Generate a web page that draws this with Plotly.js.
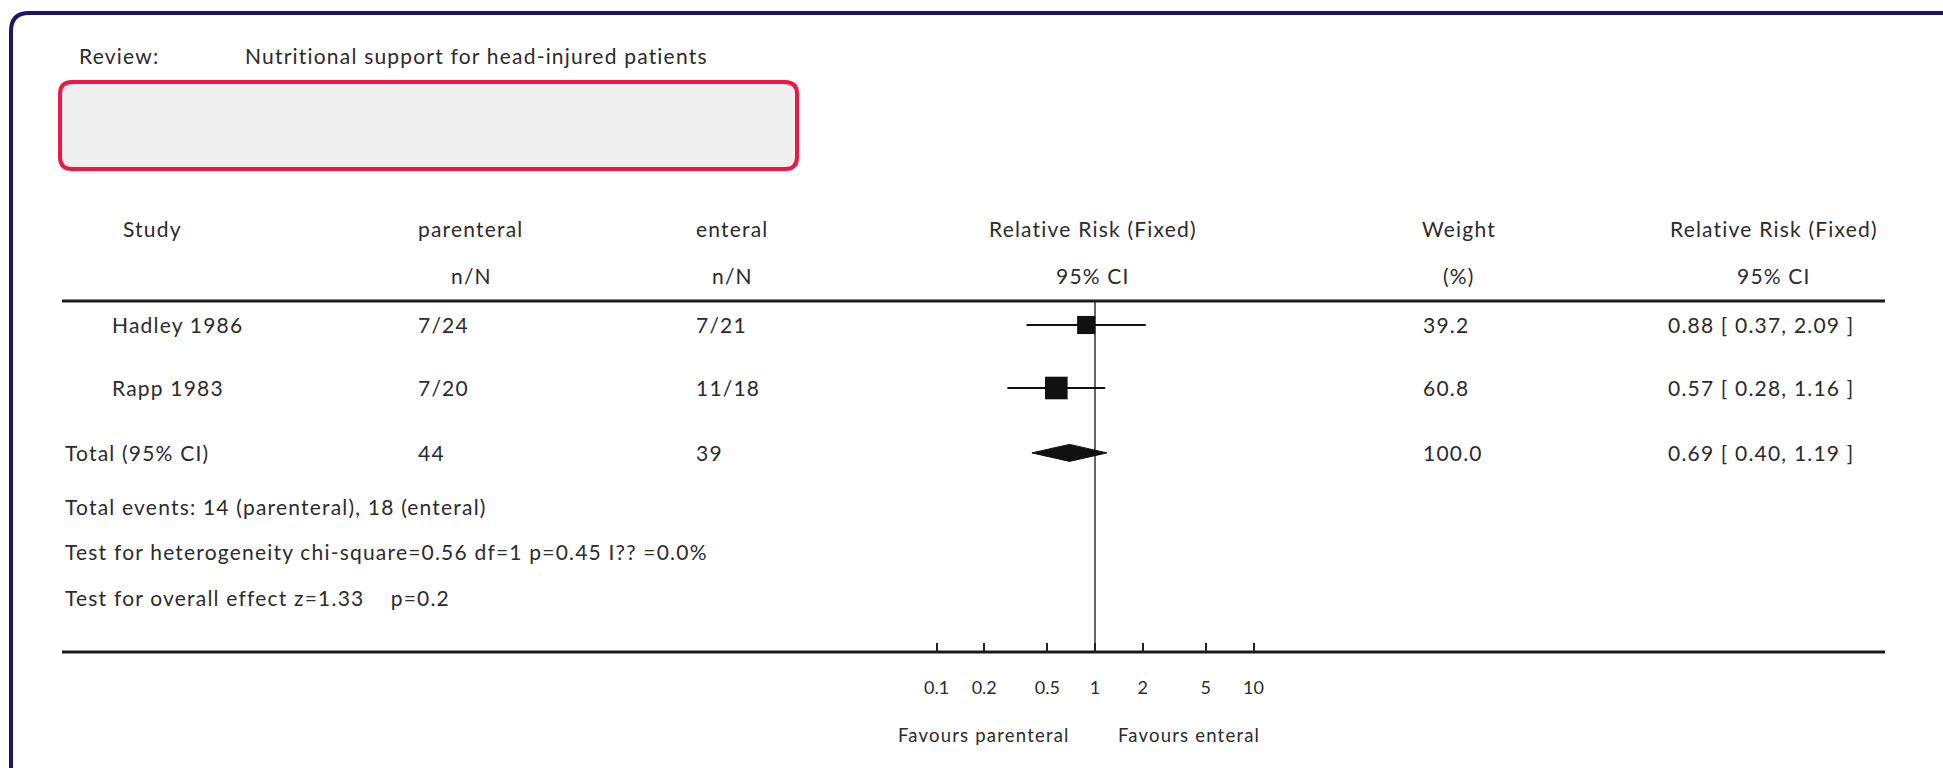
<!DOCTYPE html>
<html><head><meta charset="utf-8">
<script src="https://cdn.plot.ly/plotly-3.0.1.min.js"></script>
<style>
html,body{margin:0;padding:0;background:#fff;overflow:hidden}
#chart{width:1943px;height:768px}
text.annotation-text{letter-spacing:1.2px}
</style>
</head><body><div id="chart"></div>
<script>
// ---------- data ----------
const reviewLabel = "Review:";
const reviewTitle = "Nutritional support for head-injured patients";
const headerRow1 = ["Study", "parenteral", "enteral", "Relative Risk (Fixed)", "Weight", "Relative Risk (Fixed)"];
const headerRow2 = ["", "n/N", "n/N", "95% CI", "(%)", "95% CI"];
const studies = ["Hadley 1986", "Rapp 1983"];
const parenteralEvents = [7, 7];
const parenteralTotal = [24, 20];
const enteralEvents = [7, 11];
const enteralTotal = [21, 18];
const weights = [39.2, 60.8];
const rr = [0.88, 0.57];
const ciLow = [0.37, 0.28];
const ciHigh = [2.09, 1.16];
const totalLabel = "Total (95% CI)";
const totalParenteral = 44;
const totalEnteral = 39;
const totalWeight = 100.0;
const totalRR = 0.69;
const totalLow = 0.40;
const totalHigh = 1.19;
const footerLines = [
  "Total events: 14 (parenteral), 18 (enteral)",
  "Test for heterogeneity chi-square=0.56 df=1 p=0.45 I?? =0.0%",
  "Test for overall effect z=1.33\u00A0\u00A0\u00A0 p=0.2"
];
const tickVals = [0.1, 0.2, 0.5, 1, 2, 5, 10];
const tickText = ["0.1", "0.2", "0.5", "1", "2", "5", "10"];
const favourLeft = "Favours parenteral";
const favourRight = "Favours enteral";

// ---------- layout helpers (pixels -> paper) ----------
const W = 1943, H = 768;
const px = x => x / W;
const py = y => 1 - y / H;
const FONT = "Lato, 'Open Sans', sans-serif";
const TXT = "#2b2b2b";
const FS = 21;
const FS_SMALL = 18.5;

// x axis (log) geometry
const ONE_PX = 1095, DECADE_PX = 158.5;
const AX_L = 880, AX_R = 1300;
const xr = [(AX_L - ONE_PX) / DECADE_PX, (AX_R - ONE_PX) / DECADE_PX];
// y axis geometry (row units)
const TOP_LINE = 301, BOT_LINE = 652;
const ROW0 = 325, ROW_STEP = 63;
const totalRow = studies.length + 0.03;
const yr = [(BOT_LINE - ROW0) / ROW_STEP, (TOP_LINE - ROW0) / ROW_STEP];
const rowIdx = studies.map((_, i) => i);

const fmt2 = v => v.toFixed(2);
const ciText = (r, l, h) => `${fmt2(r)} [ ${fmt2(l)}, ${fmt2(h)} ]`;

// ---------- traces ----------
const studyTrace = {
  type: "scatter", mode: "markers",
  x: rr, y: rowIdx,
  marker: {symbol: "square", color: "#111", opacity: 1, size: weights.map(w => 2.9 * Math.sqrt(w)), line: {width: 0}},
  error_x: {type: "data", symmetric: false,
    array: rr.map((r, i) => ciHigh[i] - r),
    arrayminus: rr.map((r, i) => r - ciLow[i]),
    thickness: 2, width: 0, color: "#111"},
  hoverinfo: "skip", showlegend: false
};
const DH = 0.135;
const diamondTrace = {
  type: "scatter", mode: "lines",
  x: [totalLow, totalRR, totalHigh, totalRR, totalLow],
  y: [totalRow, totalRow - DH, totalRow, totalRow + DH, totalRow],
  fill: "toself", fillcolor: "#111", line: {color: "#111", width: 1},
  hoverinfo: "skip", showlegend: false
};

// ---------- annotations ----------
const ann = [];
function txt(text, x, y, anchor, yref, size) {
  ann.push({text: text, x: px(x), xref: "paper", y: yref === "y" ? y : py(y), yref: yref || "paper",
    xanchor: anchor || "left", yanchor: "middle", showarrow: false,
    font: {family: FONT, size: size || FS, color: TXT}});
}
txt(reviewLabel, 77, 56);
txt(reviewTitle, 243, 56);
const headCenters = [152, 471, 732, 1093, 1459, 1774];
headerRow1.forEach((t, i) => { if (t) txt(t, headCenters[i], 229, "center"); });
headerRow2.forEach((t, i) => { if (t) txt(t, headCenters[i], 275, "center"); });
const COL = {study: 110, par: 416, ent: 694, wt: 1421, ci: 1666, total: 63};
studies.forEach((s, i) => {
  txt(s, COL.study, i, "left", "y");
  txt(`${parenteralEvents[i]}/${parenteralTotal[i]}`, COL.par, i, "left", "y");
  txt(`${enteralEvents[i]}/${enteralTotal[i]}`, COL.ent, i, "left", "y");
  txt(weights[i].toFixed(1), COL.wt, i, "left", "y");
  txt(ciText(rr[i], ciLow[i], ciHigh[i]), COL.ci, i, "left", "y");
});
txt(totalLabel, COL.total, totalRow, "left", "y");
txt(String(totalParenteral), COL.par, totalRow, "left", "y");
txt(String(totalEnteral), COL.ent, totalRow, "left", "y");
txt(totalWeight.toFixed(1), COL.wt, totalRow, "left", "y");
txt(ciText(totalRR, totalLow, totalHigh), COL.ci, totalRow, "left", "y");
const footY = [506, 551, 597];
footerLines.forEach((t, i) => txt(t, COL.total, footY[i]));
txt(favourLeft, 984, 735, "center", null, FS_SMALL);
txt(favourRight, 1189, 735, "center", null, FS_SMALL);

// ---------- shapes ----------
const R = 18, BX = 11, BY = 13;
const borderPath = `M ${px(BX)},${py(H + 10)} L ${px(BX)},${py(BY + R)} Q ${px(BX)},${py(BY)} ${px(BX + R)},${py(BY)} L ${px(W + 10)},${py(BY)}`;
const rx0 = 60, ry0 = 82, rx1 = 797, ry1 = 169, rr0 = 12;
const boxPath = `M ${px(rx0 + rr0)},${py(ry0)} L ${px(rx1 - rr0)},${py(ry0)} Q ${px(rx1)},${py(ry0)} ${px(rx1)},${py(ry0 + rr0)} ` +
  `L ${px(rx1)},${py(ry1 - rr0)} Q ${px(rx1)},${py(ry1)} ${px(rx1 - rr0)},${py(ry1)} L ${px(rx0 + rr0)},${py(ry1)} ` +
  `Q ${px(rx0)},${py(ry1)} ${px(rx0)},${py(ry1 - rr0)} L ${px(rx0)},${py(ry0 + rr0)} Q ${px(rx0)},${py(ry0)} ${px(rx0 + rr0)},${py(ry0)} Z`;
const shapes = [
  {type: "path", xref: "paper", yref: "paper", path: borderPath, line: {color: "#1d1565", width: 4}},
  {type: "path", xref: "paper", yref: "paper", path: boxPath, fillcolor: "#f0f0f0", line: {color: "#ee1846", width: 4}},
  {type: "line", xref: "paper", yref: "paper", x0: px(62), x1: px(1885), y0: py(TOP_LINE), y1: py(TOP_LINE), line: {color: "#1a1a1a", width: 3}},
  {type: "line", xref: "paper", yref: "paper", x0: px(62), x1: px(1885), y0: py(BOT_LINE), y1: py(BOT_LINE), line: {color: "#1a1a1a", width: 3}},
  {type: "line", xref: "x", yref: "paper", x0: 1, x1: 1, y0: py(BOT_LINE), y1: py(TOP_LINE), line: {color: "#333", width: 1.5}, layer: "below"}
];

const layout = {
  width: W, height: H, margin: {l: 0, r: 0, t: 0, b: 0},
  paper_bgcolor: "#fff", plot_bgcolor: "rgba(0,0,0,0)",
  font: {family: FONT, size: FS, color: TXT},
  showlegend: false,
  xaxis: {type: "log", domain: [px(AX_L), px(AX_R)], range: xr, fixedrange: true,
    tickvals: tickVals, ticktext: tickText, ticks: "inside", ticklen: 9, tickwidth: 2, tickcolor: "#222",
    showgrid: false, zeroline: false, showline: false, ticklabelstandoff: 23,
    tickfont: {family: FONT, size: 18, color: TXT}},
  yaxis: {range: yr, domain: [py(BOT_LINE), py(TOP_LINE)], visible: false, showgrid: false, zeroline: false, fixedrange: true},
  shapes: shapes, annotations: ann
};
Plotly.newPlot("chart", [diamondTrace, studyTrace], layout, {displayModeBar: false, staticPlot: true});
</script></body></html>
